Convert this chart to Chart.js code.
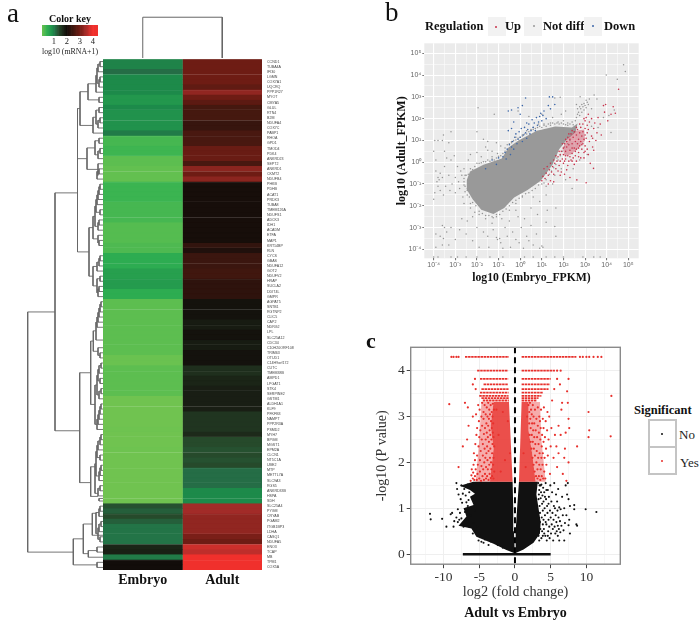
<!DOCTYPE html>
<html>
<head>
<meta charset="utf-8">
<script src="https://cdn.jsdelivr.net/npm/chart.js@4/dist/chart.umd.min.js"></script>
<style>
  html, body { margin:0; padding:0; background:#fff; }
  #page { position:relative; width:700px; height:630px; overflow:hidden; font-family:"Liberation Serif",serif; color:#111; }
  canvas { position:absolute; }
  .t { position:absolute; white-space:nowrap; line-height:1; }
  .b { font-weight:bold; }
  .keyBox { position:absolute; background:#f2f2f2; width:18px; height:19px; }
  .dot { position:absolute; width:2px; height:2px; border-radius:50%; }
  .sigBox { position:absolute; left:648px; width:25px; height:25px; border:2px solid #c4c4c4; background:#fff; }
</style>
</head>
<body>
<div id="page">
  <canvas id="colorKey" width="80" height="44" style="left:30px;top:13px"></canvas>
  <canvas id="dendroTop" width="159" height="42" style="left:103px;top:16px"></canvas>
  <canvas id="dendroLeft" width="76" height="511" style="left:27px;top:59px"></canvas>
  <canvas id="heat" width="197" height="540" style="left:103px;top:52px"></canvas>
  <canvas id="scatterB" width="265" height="250" style="left:385px;top:35px"></canvas>
  <canvas id="volcano" width="270" height="290" style="left:360px;top:335px"></canvas>

  <div class="t" style="left:7px;top:0px;font-size:27px">a</div>
  <div class="t" style="left:385px;top:-1px;font-size:27px">b</div>
  <div class="t b" style="left:366px;top:330px;font-size:22px">c</div>

  <div class="t b" style="left:425px;top:20px;font-size:12.5px">Regulation</div>
  <div class="keyBox" style="left:488px;top:17px"></div><div class="dot" style="left:495px;top:26px;background:#c8324b"></div>
  <div class="t b" style="left:505px;top:20px;font-size:12.5px">Up</div>
  <div class="keyBox" style="left:524px;top:17px"></div><div class="dot" style="left:533px;top:25px;background:#999"></div>
  <div class="t b" style="left:543px;top:20px;font-size:12.5px">Not diff</div>
  <div class="keyBox" style="left:584px;top:17px"></div><div class="dot" style="left:592px;top:25px;background:#3b66a8"></div>
  <div class="t b" style="left:604px;top:20px;font-size:12.5px">Down</div>

  <div class="t b" style="left:634px;top:404px;font-size:12.5px">Significant</div>
  <div class="sigBox" style="top:419px"></div><div class="dot" style="left:661px;top:433px;background:#111"></div>
  <div class="sigBox" style="top:446px"></div><div class="dot" style="left:661px;top:460px;background:#e8302c"></div>
  <div class="t" style="left:679px;top:428px;font-size:13px;color:#222">No</div>
  <div class="t" style="left:680px;top:456px;font-size:13px;color:#222">Yes</div>
</div>
<script>
const serif = 'Liberation Serif'

// ===== panel a data =====
const sampleNames = ['Embryo', 'Adult']
const geneNames = ['CCND1','TUBA4A','IFI30','LGMN','COX7A1','UQCRQ','PPP1R27','MYOT','CMYA5','GLUL',
  'RTN4','B2M','NDUFA4','COX7C','PABP1','RHOA','GPD1','TMOD4','PDK4','ANKRD23',
  'SEPT2','ANKRD1','CKMT2','NDUFB4','PHKB','PDHB','ACAT1','PRDX3','TUBA8','TMEM126A',
  'NDUFS1','ADCK3','IDH1','ACADM','ETFA','MAP1','KRT14BP','RLN','CYCS','GBAS',
  'NDUFA12','GOT2','NDUFV2','HRAP','SUCLA2','DDIT4L','GMPR','AGPAT5','SNTB1','RGTNP2',
  'CLIC5','CAP2','NDRG2','LPL','SLC25A12','CDC34','C10H20ORF108','TRIM63','OTUD1','C14H9orf172',
  'CUTC','TMEM38B','AMPD1','LPGAT1','STK4','SERPINE2','GSTM1','ALDH1A1','KLF9','PFKFB3',
  'NAMPT','PPP2R3A','PSMD2','MYH7','BPGM','MGST1','EPM2A','CLCN1','NT5C1A','UBE2',
  'MTP','METTL7A','SLC9A3','RGS5','ANKRD33B','HSPA','SDH','SLC25A4','PYGM','CRYAB',
  'PGAM2','ITGB1BP3','LDHA','CASQ1','NDUFA5','ENO3','TCAP','MB','TPM1','COX5A']
const embryoValues = [1,1,1.15,.95,.95,.95,.95,.8,.8,.95,
  .85,.85,.85,.85,1.05,.35,.35,.4,.4,.2,
  .2,.15,.15,.15,.42,.42,.42,.42,.35,.35,
  .35,.35,.25,.25,.25,.25,.3,.3,.55,.55,
  .55,.7,.7,.75,.75,.55,.55,.2,.2,.2,
  .2,.2,.2,.2,.2,.2,.2,.2,.08,.08,
  .2,.2,.2,.2,.2,.2,.03,.03,.03,.03,
  .03,.03,.05,.03,.03,.03,.05,.03,.03,.03,
  .03,.03,.03,.03,.03,.03,.03,1.35,1.25,1.4,
  1.25,1.1,1.1,1.1,1.1,1.75,1.8,1.05,2,2]
const adultValues = [3,3,3,3,3,2.85,3.3,3,2.8,2.55,
  2.55,2.55,2.4,2.4,2.6,2.6,2.6,2.95,2.95,2.95,
  2.6,3.25,3,3.25,2.05,2.05,2.05,2.05,2.05,2.05,
  2.05,2.05,2.05,2.05,2.05,2.05,2.35,2.15,2.45,2.45,
  2.45,2.5,2.5,2.3,2.3,2.3,2.3,1.95,1.95,1.95,
  1.95,1.85,1.85,1.95,1.95,1.85,1.85,1.95,1.95,1.95,
  1.65,1.65,1.75,1.75,1.82,1.82,1.82,1.82,1.82,1.6,
  1.6,1.6,1.6,1.7,1.4,1.4,1.35,1.4,1.35,1.4,
  1.15,1.15,1.15,1.15,.95,.95,.95,3.45,3.45,3.3,
  3.3,3.3,3.3,3.1,3,3.75,3.65,4,4,4]
const keyLevels = [.1,.2,.3,.4,.5,.6,.7,.8,.9,1,1.1,1.2,1.3,1.4,1.5,1.6,1.7,1.8,1.9,2,2.1,2.2,
  2.3,2.4,2.5,2.6,2.7,2.8,2.9,3,3.1,3.2,3.3,3.4,3.5,3.6,3.7,3.8,3.9,4,4.1,4.2,4.3,4.4]
const keyTicks = [1, 2, 3, 4]
// value -> colour stops of the key
const colorStops = [[0,115,196,80],[.2,93,190,80],[.5,47,176,82],[.95,29,138,74],[1.15,37,109,70],[1.4,38,74,43],
  [1.7,29,42,26],[2,18,13,10],[2.5,64,23,15],[3,110,28,20],[3.5,168,45,42],[4,240,48,44],[4.4,240,48,44]]
// left dendrogram: [height, top row, top child height, bottom row, bottom child height]
const rowMerges = [
  [3,.5,0,1.5,0],[5,1,3,2.5,0],[3,3.5,0,4.5,0],[4,4,3,5.5,0],[6,1.75,5,4.75,4],[4,7.5,0,8.5,0],[7,3.2,6,6.5,0],[15,4.85,7,8,4],
  [4,9.5,0,10.5,0],[3,11.5,0,12.5,0],[5,12,3,13.5,0],[7,10,4,12.75,5],[10,11.4,7,14.5,0],[23,6.4,15,13,10],
  [4,15.5,0,16.5,0],[3,17.5,0,18.5,0],[5,18,3,19.5,0],[8,16,4,18.75,5],[4,21.5,0,22.5,0],[6,22,4,23.5,0],[5,20.5,0,22.75,6],[16,17.4,8,21.6,5],
  [25.5,9.7,23,19.5,16],
  [3,24.5,0,25.5,0],[4,25,3,26.5,0],[5,25.75,4,27.5,0],[6,26.6,5,28.5,0],[3,29.5,0,30.5,0],[7,27.5,6,30,3],[4,31.5,0,32.5,0],[5,32,4,33.5,0],[8,28.8,7,32.75,5],[4,35.5,0,36.5,0],[5,34.5,0,36,4],[10,30.8,8,35.2,5],
  [3,38.5,0,39.5,0],[4,39,3,40.5,0],[6,39.75,4,41.5,0],[3,42.5,0,43.5,0],[4,44.5,0,45.5,0],[5,45,4,46.5,0],[6,43,3,45.75,5],[10,40.6,6,44.4,6],
  [14,33,10,42.5,10],[25.5,14.6,25.5,37.75,14],[48,26.2,25.5,72.75,23.3],
  [2,47.5,0,48.5,0],[3,48,2,49.5,0],[4,48.75,3,50.5,0],[5,49.6,4,51.5,0],[6,50.5,5,52.5,0],[7,51.5,6,55,0],[3,57.5,0,58.5,0],[5,56.5,0,58,3],[9.7,53.2,7,57.2,5],
  [2,59.5,0,60.5,0],[4,60,2,61.5,0],[3,62.5,0,63.5,0],[5,60.75,4,63,3],[2,64.5,0,65.5,0],[4,65,2,66.5,0],[6,61.9,5,65.75,4],[2,67.5,0,68.5,0],[3,68,2,69.5,0],[4,68.75,3,70.5,0],[5,69.6,4,71.5,0],[6,70.5,5,72.5,0],[8,63.8,6,71.5,6],
  [12.3,55.2,9.7,67.6,8],[23.3,61.4,12.3,82.9,12.3],
  [2,73.5,0,74.5,0],[3,74,2,75.5,0],[5,74.75,3,76.5,0],[3,77.5,0,78.5,0],[6,75.6,5,78,3],[2,79.5,0,80.5,0],[3,80,2,81.5,0],[4,80.75,3,82.5,0],[7,76.8,6,81.6,4],[3,83.5,0,84.5,0],[5,84,3,85.5,0],[4,86,0,86.5,0],[8,79.2,7,85,5],[12.3,79.8,8,85.6,5],
  [3,87.5,0,88.5,0],[4,88,3,89.5,0],[2,90.5,0,91.5,0],[4,91,2,92.5,0],[3,93.5,0,94.5,0],[5,91.75,4,94,3],[7,88.75,4,92.9,5],[10.7,88.9,7,93.2,0],
  [6,95.5,0,96.5,0],[14.7,96.2,6,97.5,0],[19.7,91,10.7,96.8,14.7],[6,98.5,0,99.5,0],[29.7,93.9,19.7,99,6],
  [75.3,49.5,48,96.5,29.7]]
const colMerge = [[.5,0],[.5,1],[1.5,1],[1.5,0]]

// ===== panel b data =====
const bTicks = [-4,-3.5,-3,-2.5,-2,-1.5,-1,-.5,0,.5,1,1.5,2,2.5,3,3.5,4,4.5,5]
const bTickLabels = ['10⁻⁴','10⁻³','10⁻²','10⁻¹','10⁰','10¹','10²','10³','10⁴','10⁵']
const bCloud = [[-2.47,-.81],[-2.32,-.43],[-1.7,-.12],[-.85,.17],[-.54,.68],[-.08,1],[.77,1.45],[1.62,1.64],[2.39,1.6],[2.65,1.78],
  [2.56,1.38],[2.18,1.05],[1.8,.6],[1.5,-.1],[.95,-.85],[.34,-1.28],[-.28,-1.62],[-.74,-2.1],[-1.24,-2.38],[-1.8,-2.18],[-2.2,-1.7],[-2.5,-1.2],[-2.47,-.81]]
const bUpCore = [[1.95,.65],[2.2,1.1],[2.55,1.45],[2.95,1.5],[3,1],[2.7,.65],[2.35,.35],[2.05,.3],[1.95,.65]]
const bGray = [[-4,.5],[-3.9,-.4],[-3.85,-.9],[-3.8,-1.1],[-3.95,-1.4],[-4,-1.7],[-3.75,-.8],[-3.7,-.5],[-3.8,-.7],[-3.6,-.7],[-3.55,-1.5],[-3.5,-.2],[-3.4,.2],[-3.3,-.6],[-3.2,.1],[-3.15,-1],[-3,-.7],[-3.05,.3],[-3,-1.4],[-2.9,-.2],
  [-2.85,-.9],[-2.8,-1.2],[-2.75,-.4],[-2.7,-.6],[-2.65,-1.6],[-2.6,-.9],[-2.55,-1.1],[-2.6,-.3],[-3.95,1],[-3.8,1],[-3.6,1],[-3.55,1.25],[-3.3,.9],[-3.2,1.4],[-3.5,.5],[-3.9,.1],[-3.7,-1.3],[-3.45,-1.1],[-3.25,-1.3],[-2.4,.1],
  [-2.3,.35],[-2.1,-2.3],[-2.2,-2.5],[-2.3,-2.1],[-2,.45],[-1.8,.25],[-1.6,.7],[-1.5,.55],[-1.3,.5],[-1.95,2.5],[-1.2,2.2],[-2,1.4],[-1.5,.95],[-1.1,.9],[-.9,.75],[-1.3,.25],[-1.05,.4],[-.7,.5],[-1.7,1.05],[-2.6,-1.9],
  [-3.6,-2.9],[-3.5,-3],[-3.9,-3.3],[-3.7,-3.4],[-3.55,-3.5],[-3.4,-3.2],[-3.2,-3],[-3.9,-3.9],[-3.6,-3.8],[-3.3,-3.8],[-3,-3.55],[-2.8,-3.1],[-2.5,-3.3],[-2.45,-2.7],[-2.7,-2.6],[-2.2,-3.6],[-2,-3],[-1.9,-3.9],[-1.7,-3.2],[-1.6,-2.6],
  [-1.5,-3.4],[-1.45,-3.9],[-1.3,-2.8],[-1.25,-3.1],[-1.1,-3.45],[-1.05,-3.55],[-.95,-3.5],[-.9,-3.7],[-.85,-2.6],[-.8,-3.95],[-.7,-3],[-.6,-3.4],[-.5,-2.7],[-.45,-3.9],[-.35,-3.2],[-.2,-3.55],[-.1,-2.5],[-.05,-3.7],[.05,-3],[.15,-3.95],
  [.2,-2.6],[.3,-3.4],[.4,-3.6],[.5,-2.9],[.6,-3.8],[.75,-3.3],[.8,-2.4],[.9,-3.95],[1,-3.85],[1.05,-3.9],[1.2,-2.75],[1.25,-2.2],[1.6,-2.95],[1.65,-2.1],[1.65,-3.4],[-1.1,-2.5],[-.2,-2.2],[.5,-2.1],[.9,-1.8],[1.2,-1.5],
  [1.5,-1],[.6,-1.6],[.1,-1.6],[-.2,-1.9],[-.5,-2.2],[-1.3,-2.5],[-1.9,-2.4],[-2.3,-1.9],[-2.45,-1.5],[-2.55,-1.35],[-2.5,-.6],[1.7,.2],[1.9,-.3],[1.6,-.6],[2.1,-.8],[2.4,-1.2],[1.2,-1.1],
  [-.4,.9],[-.2,1.15],[.1,1.2],[.3,1.45],[.6,1.6],[.85,1.75],[1.1,1.75],[1.4,1.8],[1.75,1.85],[2,1.9],[2.2,1.8],[2.4,1.85],[1.5,2.05],[1.9,2.2],[2.1,2.35],[1,2.2],[.4,2.1],[-.1,2.35],
  [2.55,1.9],[2.6,2.05],[2.65,2.2],[2.7,2.3],[2.75,2.15],[2.8,2.45],[2.85,2.3],[2.9,2.55],[2.95,2.4],[3,2.6],[3.05,2.5],[3.1,2.75],[3.15,2.65],[3.05,2.85],[2.95,2.7],[2.85,2.65],[2.75,2.55],[2.65,2.45],[3.2,2.9],[2.77,3.01],
  [1.85,2.98],[3.42,3.09],[1.6,2.95],[2.6,2.65],[3.3,2.45],[4.78,4.47],[4.86,4.16],[3.98,4],[4.49,3.81],[4.2,1.37],[3.85,2.05],[4.1,2.15],[4.35,2.4],[3.55,2.9],[3.3,1.65],[3.6,1.6],[3.1,.35],[2.75,.1],[2.45,-.3],[-4,-4.35],
  [-3.8,-4.35],[-3.2,-4.35],[-2.9,-4.35],[-2.5,-4.35],[-2,-4.35],[-1.4,-4.35],[-.8,-4.35],[.2,-4.35],[.6,-4.35],[1.2,-4.35],[1.6,-4.35],[2,-4.35],[2.9,-4.35],[3.4,-4.35],[3.7,-4.35],
  [-2.4,-.55],[-2.3,-.3],[-2.2,-.35],[-2.1,-.2],[-2,-.05],[-1.9,-.05],[-1.8,-.02],[-1.7,.02],[-1.6,.02],[-1.5,.1],[-1.4,.05],[-1.3,.15],[-1.2,.1],[-1.1,.2],[-1,.28],[-.9,.3],[-.8,.4],[-.7,.65],[-.6,.8],[-.5,.85],
  [-.4,.95],[-.3,1],[-.2,1.02],[-.1,1.1],[0,1.15],[.1,1.25],[.2,1.3],[.3,1.3],[.4,1.4],[.5,1.5],[.6,1.5],[.7,1.55],[.8,1.6],[.9,1.65],[1,1.6],[1.1,1.7],[1.2,1.65],[1.3,1.75],[1.4,1.7],[1.5,1.8],
  [1.6,1.75],[1.7,1.8],[1.8,1.75],[1.9,1.8],[2,1.75],[2.1,1.72],[2.2,1.7],[2.3,1.75],[2.45,1.72],
  [2.3,1],[2.2,.85],[2.05,.7],[1.95,.5],[1.85,.3],[1.75,.1],[1.65,-.1],[1.55,-.25],[1.45,-.4],[1.35,-.55],[1.2,-.8],[1.1,-.95],[1,-1],[.85,-1.05],[.7,-1.2],[.55,-1.3],[.4,-1.4],[.25,-1.45],[.1,-1.55],[-.05,-1.65],
  [-.2,-1.75],[-.35,-1.85],[-.5,-2],[-.65,-2.15],[-.8,-2.25],[-.95,-2.4],[-1.1,-2.4],[-1.25,-2.55],[-1.45,-2.45],[-1.6,-2.45],[-1.75,-2.35],[-1.9,-2.25],[-2.05,-2],[-2.2,-1.85],[-2.35,-1.6],[-2.45,-1.3],[-2.6,-1.05],[-2.6,-.75],[-2.55,-.6]]
const bUp = [[1,-.85],[1.05,-.65],[1.15,-.75],[1.2,-.5],[1.3,-.6],[1.35,-.35],[1.45,-.45],[1.5,-.2],[1.55,-.55],[1.6,-.05],[1.65,-.3],[1.7,.05],[1.75,-.4],[1.75,.25],[1.8,-.15],[1.85,.35],[1.85,.05],[1.9,.5],[1.9,-.45],[1.95,.15],
  [2,.65],[2,-.05],[2,.35],[2.05,.85],[2.05,-.55],[2.1,.5],[2.1,.15],[2.15,.95],[2.15,.7],[2.2,.3],[2.2,1.15],[2.2,-.15],[2.25,.8],[2.3,.55],[2.3,1.05],[2.3,-.7],[2.35,.1],[2.35,1.3],[2.4,.85],[2.4,.4],
  [2.45,1.15],[2.5,.65],[2.5,1.4],[2.5,-.1],[2.55,.95],[2.55,.3],[2.6,1.25],[2.6,.6],[2.62,-.81],[2.65,1.5],[2.65,.85],[2.7,1.05],[2.7,.45],[2.75,1.35],[2.75,.75],[2.8,1.6],[2.8,.95],[2.8,.2],[2.85,1.2],[2.85,.6],
  [2.9,1.75],[2.9,1.4],[2.9,.85],[2.95,1.05],[2.95,.45],[3,1.9],[3,1.55],[3,1.25],[3,.75],[3.05,2.05],[3.05,-.94],[3.05,1.1],[3.1,1.7],[3.1,1.35],[3.1,.6],[3.15,2.2],[3.15,1.5],[3.2,.95],[3.2,1.85],[3.24,-.05],
  [3.3,1.2],[3.3,2],[3.35,.7],[3.39,-.28],[3.4,1.55],[3.45,1.8],[3.5,1],[3.55,1.35],[3.6,2.05],[3.7,1.75],[3.75,1.25],[3.85,2.6],[3.9,2.3],[3.95,2.65],[4.05,1.9],[4.2,2.2],[4.3,2.55],[4.4,2.25],[4.55,3.35],[2.25,.05],
  [2.45,.2],[2.6,.05],[2.05,.05],[1.85,-.6],[1.55,-.9],[1.3,-1],[2.15,-.35],[2.4,.05],[2.7,.25],[2.95,.2],[3.15,.35],[3.4,.55],[1.4,-.85],[3.35,1.1],
  [1.1,-.3],[1.25,-.2],[1.4,-.05],[1.55,.1],[1.65,.3],[1.8,.5],[1.95,.85],[2.1,1.05],[2.25,1.3],[2.4,1.45],[2.6,1.6],[2.75,1.75],[2.95,2],[2.1,.3],[2.3,.25],[2.4,.65],[2.55,.5],[2.7,.65],[2.85,.8],[3,.5]]
const bDown = [[-.8,.25],[-.7,.45],[-.65,.15],[-.6,.6],[-.5,.8],[-.45,.35],[-.4,.7],[-.35,.95],[-.3,.6],[-.25,1.15],[-.2,1.3],[-.15,.85],[-.1,1.05],[-.05,1.4],[0,1.15],[.05,1.55],[.1,.95],[.15,1.25],[.2,1.6],[.25,1.35],
  [.3,1.1],[.35,1.5],[.4,1.75],[.45,1.3],[.5,1.45],[.55,1.95],[.6,1.6],[.65,1.8],[.7,1.45],[.75,2.05],[.8,1.7],[.85,1.85],[.9,2.1],[.95,2.25],[1,1.9],[1.05,2.15],[1.1,2.35],[1.2,2],[-.55,1.45],[-.4,1.55],
  [-.3,1.85],[-.1,2.5],[0,2.2],[.1,2.6],[.25,2.95],[.3,1.8],[-.55,2.35],[-.4,2.4],[1.35,3],[1.5,3],[1.6,2.65],[1.4,2.45],[1.3,2.6],[-1.1,-.1],[-1.3,.1],[-1.6,-.3],[-1,.2]]
// ===== panel c data =====
const cTicksX = [-12.5,-10,-7.5,-5,-2.5,0,2.5,5,7.5,10,12.5]
const cTicksY = [0,.5,1,1.5,2,2.5,3,3.5,4,4.5]
const cDash = [[0,4.51],[0,-.2]]
const cBaseline = [[-7.3,0],[5,0]]
const cNoLeftArea = [[-.03,.02],[-.15,.5],[-.24,1],[-.33,1.58],[-5.84,1.58],[-7.7,1.49],[-6.3,1.4],[-5.6,1.32],[-6.3,1.25],[-5.8,1.07],[-7.2,1],[-6.8,.82],[-7.9,.62],[-6.1,.56],[-5.4,.38],[-3,.23],[-1.2,.09],[-.03,.02]]
const cNoRightArea = [[.03,.02],[.1,.5],[.3,1],[.56,1.58],[3.2,1.58],[3,1.3],[3.3,1],[3.6,.7],[3.5,.45],[2.6,.25],[1.2,.1],[.03,.02]]
const cYesLeftArea = [[-.33,1.58],[-.84,3.32],[-3,3.32],[-3.4,2.8],[-3,2.3],[-3.5,1.58],[-.33,1.58]]
const cYesRightArea = [[.56,1.58],[.93,3.32],[1.9,3.32],[1.9,2.7],[2.4,2.2],[2.9,1.58],[.56,1.58]]
const cYesLeftOuter = [[-3,3.32],[-4.7,3.32],[-5,2.5],[-5.5,1.58],[-3.5,1.58],[-3,2.3],[-3.4,2.8],[-3,3.32]]
const cYesRightOuter = [[1.9,3.32],[3.5,3.32],[3.7,2.5],[4.3,1.58],[2.9,1.58],[2.4,2.2],[1.9,2.7],[1.9,3.32]]
// dense p-value strips: [y, from, to]
const cYesRows = [[4.3,-7,-.85],[4.3,.93,8.6],[4,-5.3,-.95],[4,.93,5.6],[3.82,-4.9,-.95],[3.82,.93,5],[3.7,-4.4,-.95],[3.7,.93,4.9],[3.6,-4.7,-.9],[3.6,.93,4.7],
  [3.52,-4.9,-.9],[3.52,.93,3.9],[3.45,-5,-.9],[3.45,.93,3.7],[3.4,-4.7,-.88],[3.4,.93,3.3],[3.35,-4.5,-.86],[3.35,.93,3]]
const cYes = [[-8.9,4.3],[-8.6,4.3],[-8.2,4.3],[-7.9,4.3],[9.1,4.3],[9.5,4.3],[10,4.3],[10.4,4.3],[11,4.3],[11.6,4.3],[12.1,4.3],[6.4,4],[5.9,4],[-5.6,3.82],[-5.9,3.7],[-5.5,3.6],[5.9,3.82],[7.5,3.82],[6.3,3.7],[5.5,3.6],
  [-9.2,3.27],[-7,3.3],[-6.6,3.2],[-7.3,2.35],[-7.9,1.9],[-6.5,2.8],[-6.7,2.5],[-5.9,3],[13.5,3.45],[10.3,3.1],[10.4,2.7],[10.3,2.55],[13.4,2.57],[8.7,2.35],[7.6,2.75],[7.1,2.65],[7,2.3],[7.5,2.95],[6.5,3.15],[7.3,3.55],[7.4,3.3],[6.6,3.3],
  [-6.2,1.6],[-6.1,1.72],[-6.05,1.85],[-5.9,1.65],[-5.85,1.78],[-5.8,1.95],[-5.75,2.2],[-5.7,1.62],[-5.6,2.05],[-5.6,1.7],[-5.55,2.4],[-5.5,1.85],[-5.45,3.05],[-5.4,2.6],[-5.35,1.62],[-5.3,2.15],[-5.3,2.75],[-5.25,1.75],[-5.2,1.95],[-5.15,3.25],[-5.1,2.35],[-5.05,2.9],[-5,1.65],[-5,2.55],
  [-4.95,3.15],[-4.9,1.8],[-4.9,2.05],[-4.85,2.7],[-4.8,2.25],[-4.75,1.6],[-4.7,3],[-4.7,1.92],[-4.65,2.5],[-4.6,3.3],[-4.6,2.8],[-4.55,1.7],[-4.5,2.15],[-4.5,2.4],[-4.45,1.85],[-4.4,3.1],[-4.4,2.95],[-4.35,1.62],[-4.35,2.62],[-4.3,2],[-4.25,2.3],[-4.25,3.25],
  [-4.2,1.75],[-4.2,2.75],[-4.15,2.1],[-4.1,2.5],[-4.1,3.05],[-4.05,1.65],[-4.05,1.9],[-4,2.85],[-4,2.2],[-3.95,2.65],[-3.95,3.2],[-3.9,2.35],[-3.9,1.7],[-3.85,3],[-3.85,2.05],[-3.8,1.85],[-3.8,2.55],[-3.75,2.8],[-3.75,3.3],[-3.7,1.62],[-3.7,2.25],[-3.65,2.95],
  [-3.65,2.45],[-3.6,1.95],[-3.6,3.15],[-3.55,2.7],[-3.55,1.75],[-3.5,2.1],[-3.5,3.05],[-3.45,2.6],[-3.45,2.3],[-3.4,1.66],[-3.4,3.25],[-3.35,2.9],[-3.35,2],[-3.3,2.5],[-3.3,1.85],[-3.25,2.75],[-3.25,3.1],[-3.2,2.2],[-3.2,1.7],[-3.15,2.4],[-3.15,3],[-3.1,2.65],[-3.1,3.28],[-3.05,1.95],[-3.05,2.85],[-3,2.1],[-3,1.65],[-3,2.55],[-2.95,3.15],[-2.9,2.35],[-2.9,1.8],
  [1.9,3.25],[2,2.85],[2,3.1],[2.05,2.6],[2.1,3.3],[2.15,2.95],[2.2,2.45],[2.2,2.75],[2.25,3.15],[2.3,2.3],[2.35,2.6],[2.35,3.05],[2.4,2.85],[2.45,2.1],[2.5,2.45],[2.5,3.25],[2.55,2.7],[2.6,1.95],[2.6,3],[2.65,2.3],[2.7,2.55],[2.7,2.85],[2.75,1.8],[2.8,3.15],[2.8,2.15],[2.85,2.4],[2.9,2.7],[2.95,1.7],[3,2.95],[3,2],[3.05,2.25],[3.1,2.55],[3.15,1.65],[3.15,1.85],[3.2,3.2],[3.2,2.8],[3.25,2.1],[3.3,2.4],[3.35,1.7],[3.35,2.65],[3.4,3],[3.4,1.95],[3.45,2.2],[3.5,2.9],[3.55,1.62],[3.55,2.5],[3.6,1.85],[3.6,2.75],[3.65,3.15],[3.7,2.1],[3.75,1.7],[3.75,2.35],[3.8,2.6],[3.85,1.95],[3.9,2.95],[3.9,2.2],[3.95,1.65],[4,2.75],[4,2.45],[4.05,3.2],[4.1,1.8],[4.15,2.1],[4.2,2.55],[4.25,1.65],[4.3,2.9],[4.35,2.3],[4.4,1.95],[4.5,2.7],[4.55,3.1],[4.6,2.15],[4.7,2.5],[4.8,3],[4.9,1.75],[5,2.35],[5.1,2.75],[5.2,3.35],[5.4,2.1],[5.6,2.6],[5.8,2.35],[5.9,1.9],[6.1,2.8],[6.1,2.2],[6.4,2.6],[6.7,1.75],[6.9,2.1],[7.2,1.6],[7.5,2],
  [-.7,2.2],[-1,2.9],[-1.4,2.05],[-1.7,3.1],[-2,1.8],[-2.3,2.6],[-2.6,3.15],[1.2,2.2],[1.5,1.9],[1.7,3]]
const cNo = [[-11.9,.88],[-11.8,.76],[-10.2,.77],[-9.6,.6],[-8.6,.6],[-8.8,.9],[-9,.87],[7.7,1.05],[8.3,1.07],[8.3,.98],[9.9,.98],[11.4,.92],[8.6,.65],[8.7,.62],[7.6,.75],[7.5,.63],[7.7,.45],[6.9,.3],[6.2,.3],[6,.4],
  [-8.2,1.55],[-8.1,1.42],[-7.9,1.3],[-7.6,1.2],[-7.4,1.12],[-8,.98],[-7.7,.9],[-8.2,.8],[-8.5,.72],[-8,.7],[-7.3,1.32],[-6.9,1.28],[-6.8,1.13],[-6.6,1.05],[-6.5,1.18],[-7,.92],[-7.5,.78],[-5.9,.45],[-5.6,.5],[-5.1,.3],[-4.7,.27],[-4.2,.32],[-3.7,.2],[-6.4,.6],[-7.2,.6],
  [-6.6,1.52],[-6.4,1.35],[-6,1.45],[-5.9,1.2],[-6.2,1],[-5.6,.95],[-6.6,.72],[-5.8,.68],[-5.3,.6],[-5,.42],[-4.4,.25],[-3.4,.28],[-2.4,.2],[-1.7,.14],[-7.4,.65],[-7.8,.75],[-6.7,.95],[-7.1,1.42],[-7.5,1.5],[-6.2,.85],
  [3.25,1.55],[3.4,1.4],[3.45,1.5],[3.6,1.22],[3.65,1.35],[3.7,1.52],[3.8,1.1],[3.85,1.28],[3.9,.95],[3.95,1.45],[4,1.15],[4,.75],[4.05,.55],[4.1,1.35],[4.15,1],[4.2,.85],[4.25,.4],[4.3,1.55],[4.35,1.2],[4.4,.65],[4.45,.3],[4.5,1.05],[4.55,.9],[4.6,1.4],[4.65,.5],[4.7,.75],[4.75,1.25],[4.8,.6],[4.85,.35],[4.9,.95],[4.95,1.5],[5,.8],[5.05,.45],[5.1,1.15],[5.15,.65],[5.2,1.35],[5.25,.9],[5.3,.55],[5.35,.3],[5.4,.75],[5.45,1.05],[5.5,1.55],[5.55,.6],[5.6,1],[5.65,.45],[5.7,.85],[5.75,1.3],[5.8,.7],[5.85,.5],[5.9,1.15],[5.95,.95],[6,.62],[6.05,1.42],[6.1,.8],[6.15,.55],[6.2,1.02],[6.3,.72],[6.35,.48],[6.4,.98],[6.5,.62],[6.6,1.25],[6.7,.85],[6.8,.52],[6.9,1],[7,.68],[7.1,1.5],[7.2,.85],[7.3,1.3],[7.4,1.55],[7.5,1.2],
  [3.3,.4],[3.5,.9],[3.55,.55],[3.7,.35],[3.75,.8],[3.8,.5],[3.3,1.2],[3.45,1.05],[3.6,1.5],[3.9,.4],[3.9,.65],[4.1,.45],[4.2,1.25],[4.3,.7],[4.4,1.4],[4.6,.4],[4.7,1.1],[3.35,1.3],[3.5,.7],[3.4,.3]]

// ===== helpers =====
function valueColor(v) {
  let i = 0
  while (i < colorStops.length - 2 && v > colorStops[i+1][0]) i++
  const a = colorStops[i], b = colorStops[i+1], f = Math.min(1, Math.max(0, (v - a[0]) / (b[0] - a[0])))
  const c = [1,2,3].map(k => Math.round(a[k] + (b[k] - a[k]) * f))
  return `rgb(${c[0]},${c[1]},${c[2]})`
}
const toXY = list => list.map(p => ({ x: p[0], y: p[1] }))
const fixedTicks = list => axis => { axis.ticks = list.map(v => ({ value: v })) }
const pts = (list, color, r) => ({ data: toXY(list), backgroundColor: color, borderWidth: 0, pointRadius: r, pointHoverRadius: r, showLine: false })
const area = (list, color) => ({ data: toXY(list), backgroundColor: color, borderColor: color, borderWidth: 0, pointRadius: 0, showLine: true, fill: 'shape', tension: 0 })
const base = { responsive: false, animation: false, events: [], plugins: { legend: { display: false }, tooltip: { enabled: false } } }

// ===== panel a =====
new Chart(document.getElementById('colorKey'), {
  type: 'bar',
  data: { datasets: [{ data: keyLevels.map(v => ({ x: v, y: 1 })), backgroundColor: keyLevels.map(valueColor), barPercentage: 1, categoryPercentage: 1 }] },
  options: { ...base,
    layout: { padding: { left: 12, right: 12 } },
    plugins: { ...base.plugins, title: { display: true, text: 'Color key', color: '#111', font: { family: serif, size: 10, weight: 'bold' }, padding: 0 } },
    scales: {
      x: { type: 'linear', min: .08, max: 4.4, offset: false, afterBuildTicks: fixedTicks(keyTicks), afterFit: s => { s.height = 21 }, grid: { display: false, drawTicks: false }, border: { display: false },
        ticks: { color: '#222', font: { family: serif, size: 8.5 }, padding: 1, maxRotation: 0 },
        title: { display: true, text: 'log10 (mRNA+1)', color: '#222', font: { family: serif, size: 9 }, padding: 0 } },
      y: { display: false, min: 0, max: 1 }
    } }
})

new Chart(document.getElementById('dendroTop'), {
  type: 'scatter',
  data: { datasets: [{ data: toXY(colMerge), showLine: true, borderColor: '#666', borderWidth: 1, pointRadius: 0 }] },
  options: { ...base, scales: { x: { display: false, min: 0, max: 2 }, y: { display: false, min: 0, max: 1.03 } } }
})

new Chart(document.getElementById('dendroLeft'), {
  type: 'scatter',
  data: { datasets: rowMerges.map(m => ({ data: [{ x: m[2], y: m[1] }, { x: m[0], y: m[1] }, { x: m[0], y: m[3] }, { x: m[4], y: m[3] }],
    showLine: true, borderColor: '#666', borderWidth: .9, pointRadius: 0 })) },
  options: { ...base, scales: { x: { display: false, reverse: true, min: 0, max: 76 }, y: { display: false, reverse: true, min: 0, max: 100 } } }
})

const embryoColors = embryoValues.map(valueColor), adultColors = adultValues.map(valueColor)
new Chart(document.getElementById('heat'), {
  type: 'bar',
  data: { labels: geneNames, datasets: [
    { data: embryoValues.map(() => 1), backgroundColor: embryoColors, borderColor: embryoColors, borderWidth: .7, borderSkipped: false, barPercentage: 1, categoryPercentage: 1 },
    { data: adultValues.map(() => 1), backgroundColor: adultColors, borderColor: adultColors, borderWidth: .7, borderSkipped: false, barPercentage: 1, categoryPercentage: 1 }
  ] },
  options: { ...base, indexAxis: 'y',
    layout: { padding: 0 },
    scales: {
      x: { stacked: true, type: 'linear', min: 0, max: 2, afterBuildTicks: fixedTicks([.5, 1.5]), afterFit: s => { s.height = 22 }, grid: { display: false, drawTicks: false }, border: { display: false },
        ticks: { callback: v => sampleNames[v === .5 ? 0 : 1], color: '#111', font: { family: serif, size: 14, weight: 'bold' }, padding: 2, maxRotation: 0 } },
      y: { stacked: true, position: 'right', afterFit: s => { s.width = 38 }, grid: { display: false, drawTicks: false }, border: { display: false },
        ticks: { autoSkip: false, color: '#444', font: { family: 'Liberation Sans', size: 3.6 }, padding: 5, crossAlign: 'near' } }
    } }
})

// ===== panel b =====
const ggBack = { id: 'ggBack', beforeDraw(c) { const a = c.chartArea; c.ctx.fillStyle = '#ebebeb'; c.ctx.fillRect(a.left, a.top, a.width, a.height) } }
const bGrid = {
  color: '#fff',
  lineWidth: k => k.tick && Number.isInteger(k.tick.value) ? 1.1 : .5,
  tickColor: k => k.tick && Number.isInteger(k.tick.value) ? '#777' : 'rgba(0,0,0,0)',
  tickLength: 2
}
const bLabel = v => Number.isInteger(v) ? bTickLabels[v + 4] : ''
new Chart(document.getElementById('scatterB'), {
  type: 'scatter',
  plugins: [ggBack],
  data: { datasets: [
    pts(bUp, '#c8324b', .8),
    pts(bDown, '#3b66a8', .8),
    area(bUpCore, 'rgba(200,50,75,.4)'),
    area(bCloud, '#999'),
    pts(bGray, '#949494', .75)
  ] },
  options: { ...base,
    layout: { padding: { top: 8.3, right: 11.3 } },
    scales: {
      x: { min: -4.435, max: 5.48, afterBuildTicks: fixedTicks(bTicks), afterFit: s => { s.height = 26.7 }, grid: bGrid, border: { display: false },
        ticks: { callback: bLabel, autoSkip: false, maxRotation: 0, color: '#666', font: { family: 'Liberation Sans', size: 7 }, padding: 1 },
        title: { display: true, text: 'log10 (Embryo_FPKM)', color: '#111', font: { family: serif, size: 11.7, weight: 'bold' }, padding: 0 } },
      y: { min: -4.41, max: 5.46, afterBuildTicks: fixedTicks(bTicks), afterFit: s => { s.width = 39.3 }, grid: bGrid, border: { display: false },
        ticks: { callback: bLabel, autoSkip: false, color: '#666', font: { family: 'Liberation Sans', size: 7 }, padding: 1 },
        title: { display: true, text: 'log10 (Adult_FPKM)', color: '#111', font: { family: serif, size: 12, weight: 'bold' }, padding: { top: 10, bottom: 0 } } }
    } }
})

// ===== panel c =====
const frame = { id: 'frame', afterDatasetsDraw(c) { const a = c.chartArea; c.ctx.strokeStyle = '#8a8a8a'; c.ctx.lineWidth = 1.4; c.ctx.strokeRect(a.left, a.top, a.width, a.height) } }
const isMajorX = v => v % 5 === 0, isMajorY = v => Number.isInteger(v)
new Chart(document.getElementById('volcano'), {
  type: 'scatter',
  plugins: [frame],
  data: { datasets: [
    { data: toXY(cDash), showLine: true, borderColor: '#000', borderWidth: 2, borderDash: [6, 4], pointRadius: 0 },
    pts(cYes, '#e8302c', 1.1),
    ...cYesRows.map(r => ({ data: [{ x: r[1], y: r[0] }, { x: r[2], y: r[0] }], showLine: true, borderColor: '#e8302c', borderWidth: 1.8, borderDash: [2.5, .6], pointRadius: 0 })),
    area(cYesLeftArea, 'rgba(232,48,44,.85)'),
    area(cYesRightArea, 'rgba(232,48,44,.85)'),
    area(cYesLeftOuter, 'rgba(232,48,44,.4)'),
    area(cYesRightOuter, 'rgba(232,48,44,.4)'),
    pts(cNo, '#111', 1.05),
    { data: toXY(cBaseline), showLine: true, borderColor: '#111', borderWidth: 2.6, pointRadius: 0 },
    area(cNoLeftArea, '#111'),
    area(cNoRightArea, '#111')
  ] },
  options: { ...base,
    layout: { padding: { top: 12.3, right: 9.7 } },
    plugins: { ...base.plugins, title: { display: true, position: 'bottom', fullSize: false, text: 'Adult vs Embryo', color: '#111', font: { family: serif, size: 14, weight: 'bold' }, padding: { top: 4, bottom: 3 } } },
    scales: {
      x: { min: -14.6, max: 14.75, afterBuildTicks: fixedTicks(cTicksX), afterFit: s => { s.height = 37 }, border: { display: false },
        grid: { color: '#efefef', lineWidth: k => k.tick && isMajorX(k.tick.value) ? 1 : .5, tickColor: k => k.tick && isMajorX(k.tick.value) ? '#444' : 'rgba(0,0,0,0)', tickLength: 4 },
        ticks: { callback: v => isMajorX(v) ? String(v) : '', autoSkip: false, maxRotation: 0, color: '#333', font: { family: serif, size: 13.5 }, padding: 1 },
        title: { display: true, text: 'log2 (fold change)', color: '#333', font: { family: serif, size: 14.3 }, padding: 0 } },
      y: { min: -.218, max: 4.51, afterBuildTicks: fixedTicks(cTicksY), afterFit: s => { s.width = 50.7 }, border: { display: false },
        grid: { color: '#efefef', lineWidth: k => k.tick && isMajorY(k.tick.value) ? 1 : .5, tickColor: k => k.tick && isMajorY(k.tick.value) ? '#444' : 'rgba(0,0,0,0)', tickLength: 4 },
        ticks: { callback: v => isMajorY(v) ? String(v) : '', autoSkip: false, color: '#333', font: { family: serif, size: 13.5 }, padding: 2 },
        title: { display: true, text: '-log10 (P value)', color: '#333', font: { family: serif, size: 14 }, padding: { top: 14, bottom: 0 } } }
    } }
})
</script>
</body>
</html>
